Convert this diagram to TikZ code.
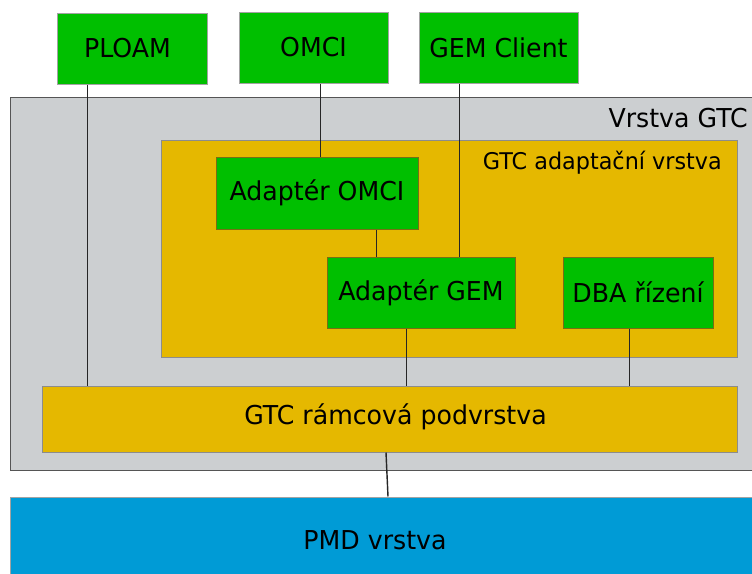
\documentclass[tikz,border=0pt]{standalone}
\usepackage{fontspec}
\setmainfont[FakeStretch=0.97]{DejaVu Sans}
\definecolor{cgreen}{RGB}{0,191,0}
\definecolor{corange}{RGB}{229,184,0}
\definecolor{cgray}{RGB}{204,207,209}
\definecolor{cblue}{RGB}{0,155,214}
\definecolor{cedge}{RGB}{140,140,140}
\definecolor{cdark}{RGB}{85,85,85}
\definecolor{colive}{RGB}{120,110,20}
\tikzset{
  box/.style={rectangle, inner sep=0pt, line width=1pt, font=\fontsize{26}{30}\selectfont},
  topbox/.style={box, fill=cgreen, draw=cedge!80},
  inbox/.style={box, fill=cgreen, draw=colive},
  orbox/.style={box, fill=corange, draw=cedge},
  conn/.style={draw=black!85, line width=1.4pt},
  lbl/.style={inner sep=0pt, font=\fontsize{26}{30}\selectfont},
}
\begin{document}
\begin{tikzpicture}[x=1pt, y=-1pt]
\useasboundingbox (0,0) rectangle (752,573);
\clip (0,0) rectangle (752,573);
% top boxes
\node[topbox, minimum width=150, minimum height=71] (ploam) at (132,48.5) {\hspace*{-9pt}PLOAM};
\node[topbox, minimum width=149, minimum height=71] (omci) at (313.5,47.5) {OMCI};
\node[topbox, minimum width=159, minimum height=71] (gemc) at (498.5,47.5) {GEM Client};
% GTC layer
\node[box, fill=cgray, draw=cdark, minimum width=750, minimum height=373] (gtc) at (385,283.5) {};
\node[lbl, anchor=base east] (gtclbl) at (748,127) {Vrstva GTC};
\node[orbox, minimum width=576, minimum height=217] (adapt) at (449,248.5) {};
\node[inner sep=0pt, anchor=base east, font=\fontsize{23}{27}\selectfont] (adaptlbl) at (722,169) {GTC adaptační vrstva};
\node[inbox, minimum width=202, minimum height=72] (adomci) at (317,193) {Adaptér OMCI};
\node[inbox, minimum width=188, minimum height=71] (adgem) at (421,292.5) {Adaptér GEM};
\node[inbox, minimum width=150, minimum height=71] (dba) at (638,292.5) {DBA řízení};
\node[orbox, minimum width=695, minimum height=66] (gtcf) at (389.5,419) {};
\node[lbl] (gtcflbl) at (395.5,417) {GTC rámcová podvrstva};
% PMD
\node[box, fill=cblue, draw=cedge!80, minimum width=750, minimum height=83] (pmd) at (385,538.5) {};
\node[lbl] (pmdlbl) at (375,540) {PMD vrstva};
% connectors
\draw[conn] ([xshift=31]ploam.south west) -- ([xshift=31]ploam.south west |- gtcf.north);
\draw[conn] ([xshift=82]omci.south west) -- ([xshift=82]omci.south west |- adomci.north);
\draw[conn] ([xshift=41]gemc.south west) -- ([xshift=41]gemc.south west |- adgem.north);
\draw[conn] ([xshift=161]adomci.south west) -- ([xshift=161]adomci.south west |- adgem.north);
\draw[conn] ([xshift=80]adgem.south west) -- ([xshift=80]adgem.south west |- gtcf.north);
\draw[conn] ([xshift=67]dba.south west) -- ([xshift=67]dba.south west |- gtcf.north);
\draw[conn] ([xshift=-3.5]gtcf.south) -- ([xshift=-1.5]gtcf.south |- pmd.north);
\end{tikzpicture}
\end{document}
